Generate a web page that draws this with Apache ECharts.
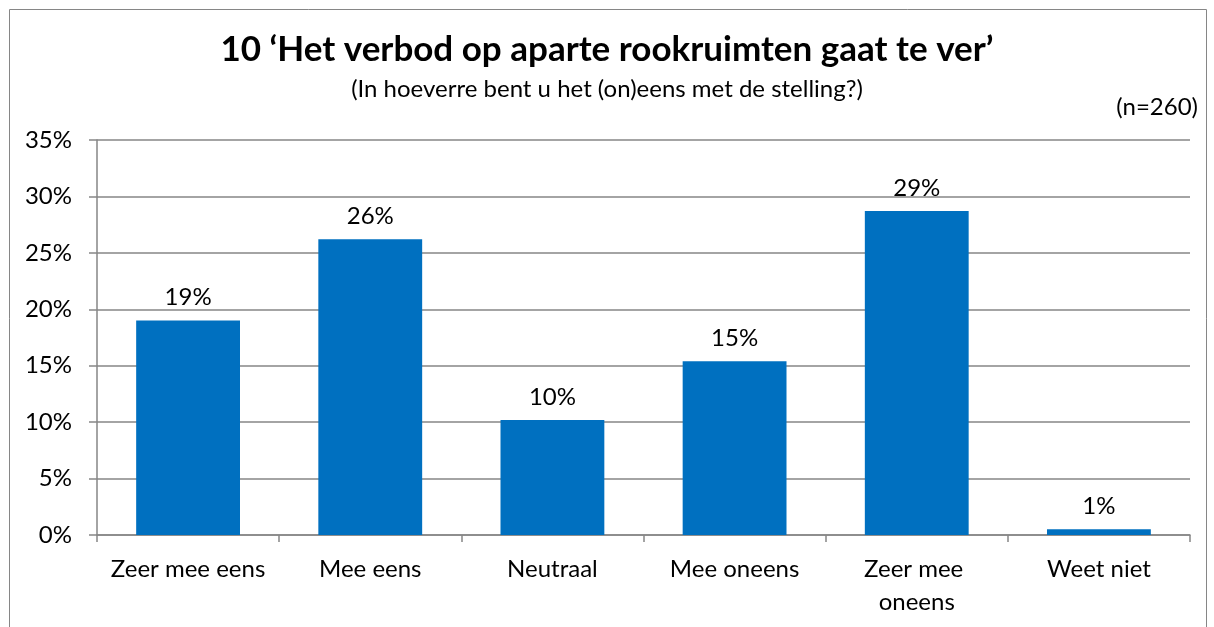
<!DOCTYPE html>
<html><head><meta charset="utf-8">
<script src="https://cdn.jsdelivr.net/npm/echarts@6/dist/echarts.min.js"></script>
<style>html,body{margin:0;padding:0;background:#fff}#c{width:1214px;height:627px}</style>
</head><body><div id="c"></div>
<script>
const categories = ['Zeer mee eens', 'Mee eens', 'Neutraal', 'Mee oneens', 'Zeer mee oneens', 'Weet niet'];
const values = [19.0, 26.2, 10.2, 15.4, 28.7, 0.5];
const titleText = '10 \u2018Het verbod op aparte rookruimten gaat te ver\u2019';
const subtitleText = '(In hoeverre bent u het (on)eens met de stelling?)';
const nText = '(n=260)';

const font = 'Lato, "Open Sans", sans-serif';
const chart = echarts.init(document.getElementById('c'), null, {renderer: 'canvas'});
chart.setOption({
  animation: false,
  backgroundColor: '#fff',
  graphic: [
    {type: 'rect', shape: {x: 9.5, y: 9.5, width: 1197, height: 640}, style: {fill: 'none', stroke: '#868686', lineWidth: 1}},
    {type: 'text', left: 'center', top: 32, style: {text: titleText, font: 'bold 35px ' + font, fill: '#000'}},
    {type: 'text', left: 'center', top: 77, style: {text: subtitleText, font: '24px ' + font, fill: '#000'}},
    {type: 'text', right: 16, top: 95, style: {text: nText, font: '24px ' + font, fill: '#000'}}
  ],
  grid: {left: 97, right: 24, top: 140, bottom: 92, containLabel: false},
  xAxis: {
    type: 'category', data: categories,
    axisLine: {lineStyle: {color: '#868686', width: 1.5}},
    axisTick: {show: true, length: 7, lineStyle: {color: '#868686', width: 1.5}},
    axisLabel: {color: '#000', fontSize: 24, fontFamily: font, margin: 18, lineHeight: 33, width: 170, overflow: 'break', interval: 0}
  },
  yAxis: {
    type: 'value', min: 0, max: 35, interval: 5,
    axisLine: {show: true, lineStyle: {color: '#868686', width: 1.5}},
    axisTick: {show: true, length: 8, lineStyle: {color: '#868686', width: 1.5}},
    splitLine: {lineStyle: {color: '#868686', width: 1.5}},
    axisLabel: {color: '#000', fontSize: 24, fontFamily: font, margin: 25, formatter: v => v + '%'}
  },
  series: [{
    type: 'bar', data: values, barWidth: '57%',
    itemStyle: {color: '#0070C0'},
    label: {show: true, position: 'top', distance: 11, color: '#000', fontSize: 24, fontFamily: font,
      formatter: p => Math.round(p.value) + '%'}
  }]
});
</script></body></html>
